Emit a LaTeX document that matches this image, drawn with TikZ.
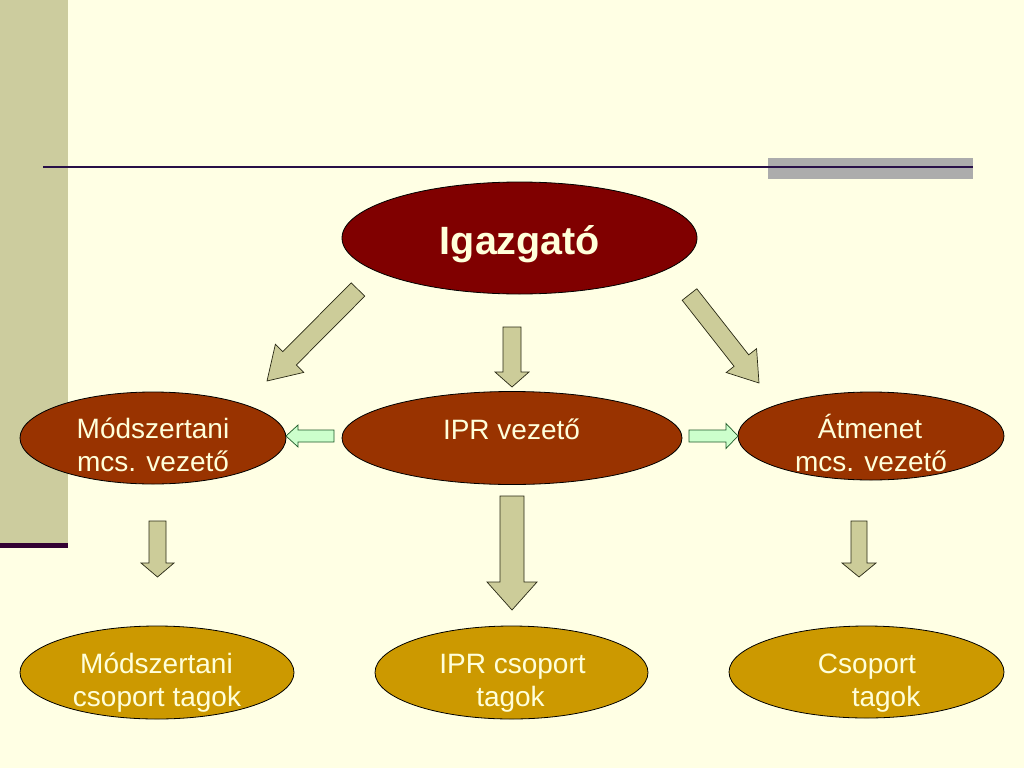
\documentclass[tikz,border=0pt]{standalone}
\usepackage{fontspec}
\setmainfont{Liberation Sans}
\usetikzlibrary{calc}
\definecolor{bgc}{RGB}{255,255,228}
\definecolor{barc}{RGB}{204,204,158}
\definecolor{barline}{RGB}{51,0,51}
\definecolor{topline}{RGB}{40,16,72}
\definecolor{grayrect}{RGB}{172,172,172}
\definecolor{topfill}{RGB}{128,0,0}
\definecolor{midfill}{RGB}{153,51,0}
\definecolor{botfill}{RGB}{204,153,0}
\definecolor{txtc}{RGB}{255,255,218}
\definecolor{olivefill}{RGB}{204,204,153}
\definecolor{olivedraw}{RGB}{40,40,20}
\definecolor{mintfill}{RGB}{204,255,204}
\definecolor{mintdraw}{RGB}{30,90,40}
\newcommand\blockarr[6]{%
  \coordinate (#2#3b) at ($(#3)!#6!(#2)$);
  \draw[#1] ($(#2)!#4!90:(#3)$) -- ($(#2#3b)!#4!90:(#3)$) -- ($(#2#3b)!#5!90:(#3)$) -- (#3)
    -- ($(#2#3b)!#5!-90:(#3)$) -- ($(#2#3b)!#4!-90:(#3)$) -- ($(#2)!#4!-90:(#3)$) -- cycle;}
\begin{document}
\begin{tikzpicture}[x=1pt,y=-1pt,
  ell/.style={ellipse shape/.try, draw=black, line width=0.8pt},
  oval/.style={draw=black, line width=0.8pt},
  lbl/.style={text=txtc, inner sep=0pt, anchor=base, font=\fontsize{28}{33}\selectfont},
  olivearr/.style={fill=olivefill, draw=olivedraw, line width=0.7pt, line join=miter},
  mintarr/.style={fill=mintfill, draw=mintdraw, line width=0.7pt, line join=miter}]
\useasboundingbox (0,0) rectangle (1024,768);
\fill[bgc] (0,0) rectangle (1024,768);
% left bar
\fill[barc] (0,0) rectangle (68,543);
\fill[barline] (0,543) rectangle (68,548);
% top rule
\fill[grayrect] (768,158) rectangle (973,179);
\draw[topline, line width=2pt] (43,167) -- (973,167);
% ellipses
\draw[oval, fill=topfill] (519.5,238) ellipse [x radius=177.5, y radius=56];
\coordinate (top) at (519.5,238);
\draw[oval, fill=midfill] (153,438) ellipse [x radius=133, y radius=46];
\draw[oval, fill=midfill] (512,438) ellipse [x radius=170, y radius=46.5];
\draw[oval, fill=midfill] (871,436) ellipse [x radius=133, y radius=44];
\draw[oval, fill=botfill] (157,672.5) ellipse [x radius=137, y radius=46.5];
\draw[oval, fill=botfill] (511.5,672.5) ellipse [x radius=136.5, y radius=46.5];
\draw[oval, fill=botfill] (866.5,672) ellipse [x radius=137.5, y radius=46];
% labels
\node[lbl, font=\bfseries\fontsize{39.5}{44}\selectfont] (tIg) at (520,254) {Igazgató};
\node[lbl] (tM1) at (153,438) {Módszertani};
\node[lbl] (tM2) at (153,471) {mcs. vezető};
\node[lbl] (tI1) at (511.5,439) {IPR vezető};
\node[lbl] (tA1) at (870,438) {Átmenet};
\node[lbl] (tA2) at (871,471) {mcs. vezető};
\node[lbl] (tB1) at (156.5,673) {Módszertani};
\node[lbl] (tB2) at (157,706) {csoport tagok};
\node[lbl] (tC1) at (512.5,673) {IPR csoport};
\node[lbl] (tC2) at (510.5,706) {tagok};
\node[lbl] (tD1) at (867,673) {Csoport};
\node[lbl] (tD2) at (886,706) {tagok};
% arrow coordinates
\coordinate (a1s) at (358,289.5); \coordinate (a1t) at (267,381);
\coordinate (a2s) at (512,327);   \coordinate (a2t) at (512,387);
\coordinate (a3s) at (689.5,294.5); \coordinate (a3t) at (759,383);
\coordinate (a4s) at (334,436);   \coordinate (a4t) at (286,436);
\coordinate (a5s) at (689,436);   \coordinate (a5t) at (738,436);
\coordinate (a6s) at (157.5,521); \coordinate (a6t) at (157.5,577);
\coordinate (a7s) at (512,496);   \coordinate (a7t) at (512,610);
\coordinate (a8s) at (859,521);   \coordinate (a8t) at (859,577);
\blockarr{olivearr}{a1s}{a1t}{9.5pt}{20pt}{32pt}
\blockarr{olivearr}{a2s}{a2t}{9pt}{17pt}{15pt}
\blockarr{olivearr}{a3s}{a3t}{9.3pt}{19.3pt}{28.5pt}
\blockarr{mintarr}{a4s}{a4t}{6pt}{11pt}{12pt}
\blockarr{mintarr}{a5s}{a5t}{6pt}{12.5pt}{12pt}
\blockarr{olivearr}{a6s}{a6t}{8.5pt}{16.5pt}{14pt}
\blockarr{olivearr}{a7s}{a7t}{12pt}{25pt}{28pt}
\blockarr{olivearr}{a8s}{a8t}{8pt}{17pt}{14pt}
\end{tikzpicture}
\end{document}
